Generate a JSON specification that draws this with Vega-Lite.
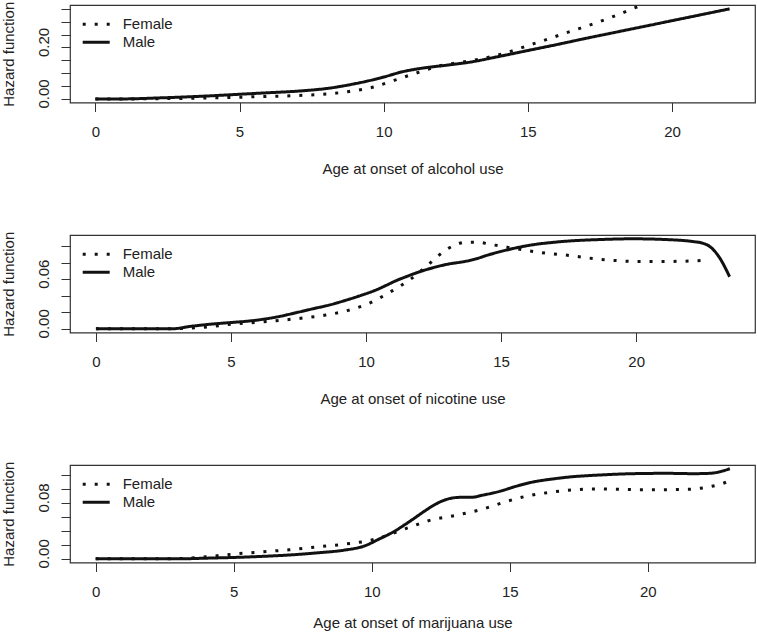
{
  "$schema": "https://vega.github.io/schema/vega-lite/v6.json",
  "padding": {"left": 0, "top": 0, "right": 0, "bottom": 0},
  "autosize": {"type": "pad"},
  "background": "white",
  "datasets": {
    "alcohol": [
      {"sex": "Male", "age": 0, "h": 0}, {"sex": "Male", "age": 1, "h": 0}, {"sex": "Male", "age": 1.5, "h": 0.001}, {"sex": "Male", "age": 2, "h": 0.003}, {"sex": "Male", "age": 3, "h": 0.007}, {"sex": "Male", "age": 4, "h": 0.012}, {"sex": "Male", "age": 5, "h": 0.018}, {"sex": "Male", "age": 6, "h": 0.024}, {"sex": "Male", "age": 7, "h": 0.030}, {"sex": "Male", "age": 7.66, "h": 0.036}, {"sex": "Male", "age": 8, "h": 0.040}, {"sex": "Male", "age": 8.47, "h": 0.048}, {"sex": "Male", "age": 9, "h": 0.059}, {"sex": "Male", "age": 9.5, "h": 0.071}, {"sex": "Male", "age": 10, "h": 0.085}, {"sex": "Male", "age": 10.67, "h": 0.106}, {"sex": "Male", "age": 11.37, "h": 0.120}, {"sex": "Male", "age": 12.18, "h": 0.131}, {"sex": "Male", "age": 13, "h": 0.143}, {"sex": "Male", "age": 14, "h": 0.165}, {"sex": "Male", "age": 15, "h": 0.188}, {"sex": "Male", "age": 16, "h": 0.211}, {"sex": "Male", "age": 17, "h": 0.235}, {"sex": "Male", "age": 18, "h": 0.258}, {"sex": "Male", "age": 19, "h": 0.281}, {"sex": "Male", "age": 20, "h": 0.304}, {"sex": "Male", "age": 21, "h": 0.327}, {"sex": "Male", "age": 22, "h": 0.350},
      {"sex": "Female", "age": 0, "h": 0}, {"sex": "Female", "age": 1, "h": 0}, {"sex": "Female", "age": 2, "h": 0.0005}, {"sex": "Female", "age": 3, "h": 0.002}, {"sex": "Female", "age": 4, "h": 0.004}, {"sex": "Female", "age": 4.79, "h": 0.0055}, {"sex": "Female", "age": 5.61, "h": 0.009}, {"sex": "Female", "age": 6.42, "h": 0.0105}, {"sex": "Female", "age": 7.22, "h": 0.014}, {"sex": "Female", "age": 8.02, "h": 0.019}, {"sex": "Female", "age": 8.81, "h": 0.029}, {"sex": "Female", "age": 9.61, "h": 0.045}, {"sex": "Female", "age": 10.36, "h": 0.072}, {"sex": "Female", "age": 11.12, "h": 0.100}, {"sex": "Female", "age": 11.89, "h": 0.127}, {"sex": "Female", "age": 12.66, "h": 0.142}, {"sex": "Female", "age": 13.45, "h": 0.157}, {"sex": "Female", "age": 14.24, "h": 0.179}, {"sex": "Female", "age": 15.0, "h": 0.207}, {"sex": "Female", "age": 15.76, "h": 0.235}, {"sex": "Female", "age": 16.52, "h": 0.264}, {"sex": "Female", "age": 17.28, "h": 0.292}, {"sex": "Female", "age": 18.03, "h": 0.323}, {"sex": "Female", "age": 18.78, "h": 0.357}, {"sex": "Female", "age": 19.2, "h": 0.375}
    ],
    "nicotine": [
      {"sex": "Male", "age": 0, "h": 0}, {"sex": "Male", "age": 1, "h": 0}, {"sex": "Male", "age": 2, "h": 0}, {"sex": "Male", "age": 2.8, "h": 0}, {"sex": "Male", "age": 3.5, "h": 0.003}, {"sex": "Male", "age": 4.2, "h": 0.0055}, {"sex": "Male", "age": 4.94, "h": 0.0075}, {"sex": "Male", "age": 5.68, "h": 0.0095}, {"sex": "Male", "age": 6.17, "h": 0.0115}, {"sex": "Male", "age": 6.8, "h": 0.015}, {"sex": "Male", "age": 7.41, "h": 0.0195}, {"sex": "Male", "age": 8.0, "h": 0.024}, {"sex": "Male", "age": 8.64, "h": 0.0288}, {"sex": "Male", "age": 9.25, "h": 0.0345}, {"sex": "Male", "age": 9.87, "h": 0.041}, {"sex": "Male", "age": 10.3, "h": 0.046}, {"sex": "Male", "age": 10.74, "h": 0.0524}, {"sex": "Male", "age": 11.1, "h": 0.058}, {"sex": "Male", "age": 11.48, "h": 0.0629}, {"sex": "Male", "age": 11.9, "h": 0.068}, {"sex": "Male", "age": 12.34, "h": 0.0725}, {"sex": "Male", "age": 13.09, "h": 0.0785}, {"sex": "Male", "age": 13.6, "h": 0.081}, {"sex": "Male", "age": 14.07, "h": 0.0845}, {"sex": "Male", "age": 14.5, "h": 0.089}, {"sex": "Male", "age": 14.94, "h": 0.093}, {"sex": "Male", "age": 15.56, "h": 0.0978}, {"sex": "Male", "age": 16.17, "h": 0.1015}, {"sex": "Male", "age": 16.8, "h": 0.104}, {"sex": "Male", "age": 17.41, "h": 0.1058}, {"sex": "Male", "age": 18.64, "h": 0.1078}, {"sex": "Male", "age": 19.87, "h": 0.1087}, {"sex": "Male", "age": 21.11, "h": 0.1078}, {"sex": "Male", "age": 22.1, "h": 0.1054}, {"sex": "Male", "age": 22.45, "h": 0.1035}, {"sex": "Male", "age": 22.71, "h": 0.0998}, {"sex": "Male", "age": 23.09, "h": 0.0858}, {"sex": "Male", "age": 23.46, "h": 0.0629},
      {"sex": "Female", "age": 0, "h": 0}, {"sex": "Female", "age": 1, "h": 0}, {"sex": "Female", "age": 2, "h": 0}, {"sex": "Female", "age": 3, "h": 0.0003}, {"sex": "Female", "age": 4, "h": 0.002}, {"sex": "Female", "age": 5.09, "h": 0.0058}, {"sex": "Female", "age": 5.95, "h": 0.0078}, {"sex": "Female", "age": 6.8, "h": 0.0102}, {"sex": "Female", "age": 7.65, "h": 0.013}, {"sex": "Female", "age": 8.5, "h": 0.0166}, {"sex": "Female", "age": 9.34, "h": 0.0223}, {"sex": "Female", "age": 10.15, "h": 0.0315}, {"sex": "Female", "age": 10.91, "h": 0.0448}, {"sex": "Female", "age": 11.62, "h": 0.0593}, {"sex": "Female", "age": 12.3, "h": 0.0773}, {"sex": "Female", "age": 12.94, "h": 0.095}, {"sex": "Female", "age": 13.31, "h": 0.1014}, {"sex": "Female", "age": 13.71, "h": 0.1046}, {"sex": "Female", "age": 14.13, "h": 0.1046}, {"sex": "Female", "age": 14.57, "h": 0.1022}, {"sex": "Female", "age": 15.0, "h": 0.0998}, {"sex": "Female", "age": 15.84, "h": 0.0952}, {"sex": "Female", "age": 16.68, "h": 0.0913}, {"sex": "Female", "age": 17.53, "h": 0.0886}, {"sex": "Female", "age": 18.38, "h": 0.085}, {"sex": "Female", "age": 19.23, "h": 0.0825}, {"sex": "Female", "age": 20.09, "h": 0.0813}, {"sex": "Female", "age": 20.94, "h": 0.0813}, {"sex": "Female", "age": 21.8, "h": 0.0817}, {"sex": "Female", "age": 22.67, "h": 0.0829}
    ],
    "marijuana": [
      {"sex": "Male", "age": 0, "h": 0}, {"sex": "Male", "age": 1, "h": 0}, {"sex": "Male", "age": 2, "h": 0}, {"sex": "Male", "age": 3, "h": 0}, {"sex": "Male", "age": 4, "h": 0.001}, {"sex": "Male", "age": 5, "h": 0.002}, {"sex": "Male", "age": 6, "h": 0.0035}, {"sex": "Male", "age": 7, "h": 0.0055}, {"sex": "Male", "age": 8, "h": 0.0085}, {"sex": "Male", "age": 9, "h": 0.0125}, {"sex": "Male", "age": 9.7, "h": 0.018}, {"sex": "Male", "age": 10.3, "h": 0.029}, {"sex": "Male", "age": 10.8, "h": 0.039}, {"sex": "Male", "age": 11.2, "h": 0.049}, {"sex": "Male", "age": 11.5, "h": 0.057}, {"sex": "Male", "age": 11.9, "h": 0.068}, {"sex": "Male", "age": 12.3, "h": 0.078}, {"sex": "Male", "age": 12.7, "h": 0.085}, {"sex": "Male", "age": 13.2, "h": 0.088}, {"sex": "Male", "age": 13.6, "h": 0.088}, {"sex": "Male", "age": 14.0, "h": 0.091}, {"sex": "Male", "age": 14.64, "h": 0.0967}, {"sex": "Male", "age": 15.24, "h": 0.104}, {"sex": "Male", "age": 15.84, "h": 0.110}, {"sex": "Male", "age": 16.45, "h": 0.1138}, {"sex": "Male", "age": 17.05, "h": 0.1167}, {"sex": "Male", "age": 18.26, "h": 0.120}, {"sex": "Male", "age": 19.47, "h": 0.1219}, {"sex": "Male", "age": 20.68, "h": 0.1224}, {"sex": "Male", "age": 21.64, "h": 0.1219}, {"sex": "Male", "age": 22.25, "h": 0.1224}, {"sex": "Male", "age": 22.61, "h": 0.1247}, {"sex": "Male", "age": 22.97, "h": 0.129},
      {"sex": "Female", "age": 0, "h": 0}, {"sex": "Female", "age": 1, "h": 0}, {"sex": "Female", "age": 2, "h": 0}, {"sex": "Female", "age": 3, "h": 0.0005}, {"sex": "Female", "age": 4, "h": 0.003}, {"sex": "Female", "age": 5.04, "h": 0.007}, {"sex": "Female", "age": 6, "h": 0.010}, {"sex": "Female", "age": 7, "h": 0.013}, {"sex": "Female", "age": 8, "h": 0.017}, {"sex": "Female", "age": 9, "h": 0.021}, {"sex": "Female", "age": 10, "h": 0.027}, {"sex": "Female", "age": 10.6, "h": 0.034}, {"sex": "Female", "age": 11, "h": 0.040}, {"sex": "Female", "age": 11.5, "h": 0.047}, {"sex": "Female", "age": 12, "h": 0.054}, {"sex": "Female", "age": 13, "h": 0.062}, {"sex": "Female", "age": 14, "h": 0.071}, {"sex": "Female", "age": 14.82, "h": 0.0814}, {"sex": "Female", "age": 15.64, "h": 0.090}, {"sex": "Female", "age": 16.46, "h": 0.0952}, {"sex": "Female", "age": 17.29, "h": 0.0986}, {"sex": "Female", "age": 18.13, "h": 0.100}, {"sex": "Female", "age": 18.97, "h": 0.0995}, {"sex": "Female", "age": 19.81, "h": 0.099}, {"sex": "Female", "age": 20.65, "h": 0.099}, {"sex": "Female", "age": 21.49, "h": 0.0995}, {"sex": "Female", "age": 21.9, "h": 0.101}, {"sex": "Female", "age": 22.32, "h": 0.1038}, {"sex": "Female", "age": 22.72, "h": 0.108}, {"sex": "Female", "age": 23.13, "h": 0.1147}
    ]
  },
  "spacing": 132,
  "bounds": "flush",
  "vconcat": [
    {
      "width": 685, "height": 97.5,
      "data": {"name": "alcohol"},
      "mark": {"type": "line", "color": "#111", "strokeWidth": 3, "interpolate": "monotone", "clip": true, "strokeCap": "butt"},
      "encoding": {
        "x": {"field": "age", "type": "quantitative", "scale": {"domain": [-0.88, 22.88], "nice": false, "zero": false}, "axis": {"values": [0, 5, 10, 15, 20], "title": "Age at onset of alcohol use"}},
        "y": {"field": "h", "type": "quantitative", "scale": {"domain": [-0.014, 0.365], "nice": false, "zero": false}, "axis": {"values": [0, 0.05, 0.1, 0.15, 0.2, 0.25, 0.3, 0.35], "labelExpr": "abs(datum.value) < 1e-9 || abs(datum.value - 0.2) < 1e-9 ? format(datum.value, '.2f') : ''", "title": "Hazard function"}},
        "strokeDash": {"field": "sex", "type": "nominal", "scale": {"domain": ["Female", "Male"], "range": [[3, 9], [1, 0]]},
          "legend": {"title": null, "orient": "none", "legendX": 11.2, "legendY": 10.5, "symbolType": "stroke", "symbolSize": 729, "symbolStrokeWidth": 3, "symbolStrokeColor": "#111", "clipHeight": 17.4, "rowPadding": 0, "labelOffset": 11.5, "padding": 0, "labelFontSize": 15, "labelFont": "Liberation Sans", "labelColor": "#222"}}
      }
    },
    {
      "width": 685, "height": 97.5,
      "data": {"name": "nicotine"},
      "mark": {"type": "line", "color": "#111", "strokeWidth": 3, "interpolate": "monotone", "clip": true, "strokeCap": "butt"},
      "encoding": {
        "x": {"field": "age", "type": "quantitative", "scale": {"domain": [-0.96, 24.4], "nice": false, "zero": false}, "axis": {"values": [0, 5, 10, 15, 20], "title": "Age at onset of nicotine use"}},
        "y": {"field": "h", "type": "quantitative", "scale": {"domain": [-0.0044, 0.1133], "nice": false, "zero": false}, "axis": {"values": [0, 0.02, 0.04, 0.06, 0.08, 0.1], "labelExpr": "abs(datum.value) < 1e-9 || abs(datum.value - 0.06) < 1e-9 ? format(datum.value, '.2f') : ''", "title": "Hazard function"}},
        "strokeDash": {"field": "sex", "type": "nominal", "scale": {"domain": ["Female", "Male"], "range": [[3, 9], [1, 0]]},
          "legend": {"title": null, "orient": "none", "legendX": 11.2, "legendY": 10.5, "symbolType": "stroke", "symbolSize": 729, "symbolStrokeWidth": 3, "symbolStrokeColor": "#111", "clipHeight": 17.4, "rowPadding": 0, "labelOffset": 11.5, "padding": 0, "labelFontSize": 15, "labelFont": "Liberation Sans", "labelColor": "#222"}}
      }
    },
    {
      "width": 685, "height": 97.5,
      "data": {"name": "marijuana"},
      "mark": {"type": "line", "color": "#111", "strokeWidth": 3, "interpolate": "monotone", "clip": true, "strokeCap": "butt"},
      "encoding": {
        "x": {"field": "age", "type": "quantitative", "scale": {"domain": [-0.93, 23.88], "nice": false, "zero": false}, "axis": {"values": [0, 5, 10, 15, 20], "title": "Age at onset of marijuana use", "titlePadding": 16}},
        "y": {"field": "h", "type": "quantitative", "scale": {"domain": [-0.0052, 0.1343], "nice": false, "zero": false}, "axis": {"values": [0, 0.02, 0.04, 0.06, 0.08, 0.1, 0.12], "labelExpr": "abs(datum.value) < 1e-9 || abs(datum.value - 0.08) < 1e-9 ? format(datum.value, '.2f') : ''", "title": "Hazard function"}},
        "strokeDash": {"field": "sex", "type": "nominal", "scale": {"domain": ["Female", "Male"], "range": [[3, 9], [1, 0]]},
          "legend": {"title": null, "orient": "none", "legendX": 11.2, "legendY": 10.5, "symbolType": "stroke", "symbolSize": 729, "symbolStrokeWidth": 3, "symbolStrokeColor": "#111", "clipHeight": 17.4, "rowPadding": 0, "labelOffset": 11.5, "padding": 0, "labelFontSize": 15, "labelFont": "Liberation Sans", "labelColor": "#222"}}
      }
    }
  ],
  "resolve": {"scale": {"x": "independent", "y": "independent", "strokeDash": "independent"}, "legend": {"strokeDash": "independent"}},
  "config": {
    "font": "Liberation Sans",
    "view": {"stroke": "#333", "strokeWidth": 1.2},
    "axis": {"domain": false, "grid": false, "tickColor": "#333", "tickSize": 9, "tickWidth": 1, "labelFont": "Liberation Sans", "labelFontSize": 15, "labelColor": "#222", "titleFont": "Liberation Sans", "titleFontSize": 15, "titleFontWeight": "normal", "titleColor": "#222", "labelOverlap": false},
    "axisX": {"labelPadding": 13, "titlePadding": 22, "labelFlush": false},
    "axisY": {"labelAngle": 270, "labelAlign": "center", "labelBaseline": "bottom", "labelPadding": 10, "labelOffset": -5.5, "titlePadding": 20}
  }
}
